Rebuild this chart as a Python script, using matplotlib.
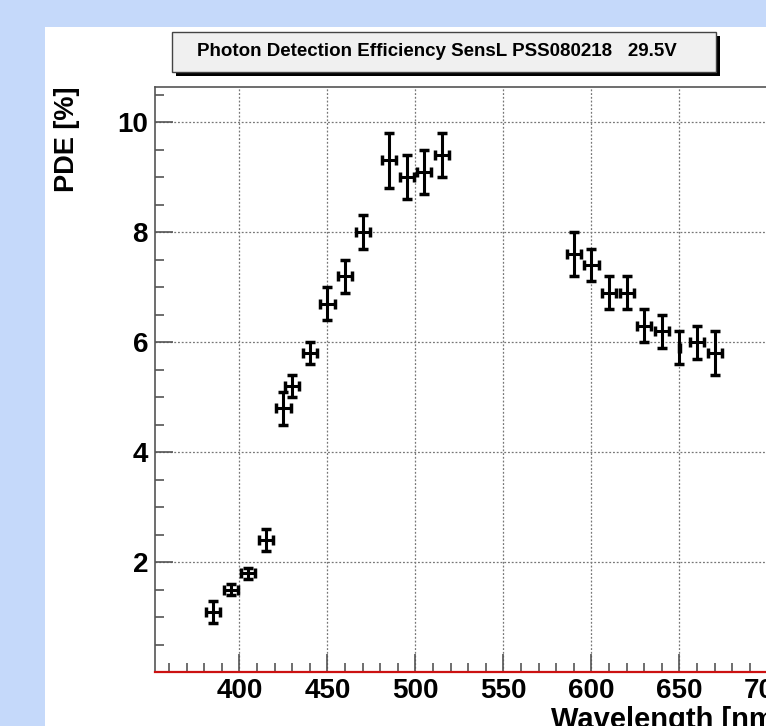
import matplotlib
matplotlib.use('Agg')
import matplotlib.pyplot as plt
from matplotlib.patches import Rectangle
from matplotlib.ticker import MultipleLocator

# measured points: wavelength [nm], PDE [%], errors
wavelength = [385, 395, 405, 415, 425, 430, 440, 450, 460, 470,
              485, 495, 505, 515,
              590, 600, 610, 620, 630, 640, 650, 660, 670]
pde = [1.1, 1.5, 1.8, 2.4, 4.8, 5.2, 5.8, 6.7, 7.2, 8.0,
       9.3, 9.0, 9.1, 9.4,
       7.6, 7.4, 6.9, 6.9, 6.3, 6.2, 5.9, 6.0, 5.8]
wl_err = [4, 4, 4, 4, 4, 4, 4, 4, 4, 4,
          4, 4, 4, 4,
          4, 4, 4, 4, 4, 4, 0.5, 4, 4]
pde_err = [0.2, 0.1, 0.1, 0.2, 0.3, 0.2, 0.2, 0.3, 0.3, 0.3,
           0.5, 0.4, 0.4, 0.4,
           0.4, 0.3, 0.3, 0.3, 0.3, 0.3, 0.3, 0.3, 0.4]

title = 'Photon Detection Efficiency SensL PSS080218   29.5V'

plt.rcParams['font.family'] = ['Liberation Sans', 'DejaVu Sans']
plt.rcParams['font.weight'] = 'bold'

W, H = 766, 726
fig = plt.figure(figsize=(W / 100, H / 100), dpi=100)
fig.patch.set_facecolor('#c5d9fa')

# white canvas (ROOT pad)
fig.patches.append(Rectangle((45 / W, 0), 1, 1 - 27 / H, transform=fig.transFigure,
                             facecolor='white', edgecolor='none', zorder=-10))

# axes extends past the right border, like the cropped original
ax_l, ax_r, ax_t, ax_b = 155, 795, 87, 672
ax = fig.add_axes([ax_l / W, 1 - ax_b / H, (ax_r - ax_l) / W, (ax_b - ax_t) / H])
ax.set_zorder(1)
ax.set_facecolor('white')

xmin = 352.0
px_per_nm = 1.76
ax.set_xlim(xmin, xmin + (ax_r - ax_l) / px_per_nm)
ax.set_ylim(0, (ax_b - ax_t) / 55.0)

ax.errorbar(wavelength, pde, xerr=wl_err, yerr=pde_err, fmt='none', ecolor='black',
            elinewidth=2.2, capsize=3.3, capthick=2.5, zorder=3)

ax.xaxis.set_major_locator(MultipleLocator(50))
ax.xaxis.set_minor_locator(MultipleLocator(10))
ax.set_yticks([2, 4, 6, 8, 10])
ax.yaxis.set_minor_locator(MultipleLocator(0.5))

ax.tick_params(which='both', direction='in', color='#555555', width=1.2,
               labelsize=20, top=False, right=False)
ax.tick_params(which='major', length=13)
ax.tick_params(which='minor', length=6.5)
ax.tick_params(axis='x', pad=4)
ax.tick_params(axis='y', pad=5)
for lab in ax.get_xticklabels() + ax.get_yticklabels():
    lab.set_fontweight('bold')

ax.grid(True, which='major', color='#777777', linestyle=(0, (1.5, 1.5)), linewidth=0.9)
ax.set_axisbelow(True)

for s in ax.spines.values():
    s.set_color('#555555')
    s.set_linewidth(1.2)
ax.spines['bottom'].set_color('#cc1111')
ax.spines['bottom'].set_linewidth(1.6)

# axis titles, ROOT style (aligned to the ends)
fig.text(551 / W, -2 / H, 'Wavelength [nm]', fontsize=21, fontweight='bold',
         ha='left', va='baseline')
fig.text(67 / W, 1 - 86 / H, 'PDE [%]', fontsize=19.5, fontweight='bold',
         rotation=90, ha='center', va='top')

# title box with shadow
bx0, bx1, by0, by1 = 172, 716, 32, 72
fig.patches.append(Rectangle(((bx0 + 4) / W, 1 - (by1 + 4) / H), (bx1 - bx0) / W, (by1 - by0) / H,
                             transform=fig.transFigure, facecolor='black', edgecolor='none', zorder=5))
fig.patches.append(Rectangle((bx0 / W, 1 - by1 / H), (bx1 - bx0) / W, (by1 - by0) / H,
                             transform=fig.transFigure, facecolor='#f0f0f0', edgecolor='#444444',
                             linewidth=1.0, zorder=6))
fig.text(437 / W, 1 - 52 / H, title, fontsize=13.5, fontweight='bold',
         ha='center', va='center', zorder=7)

fig.savefig('out.png', dpi=100)
